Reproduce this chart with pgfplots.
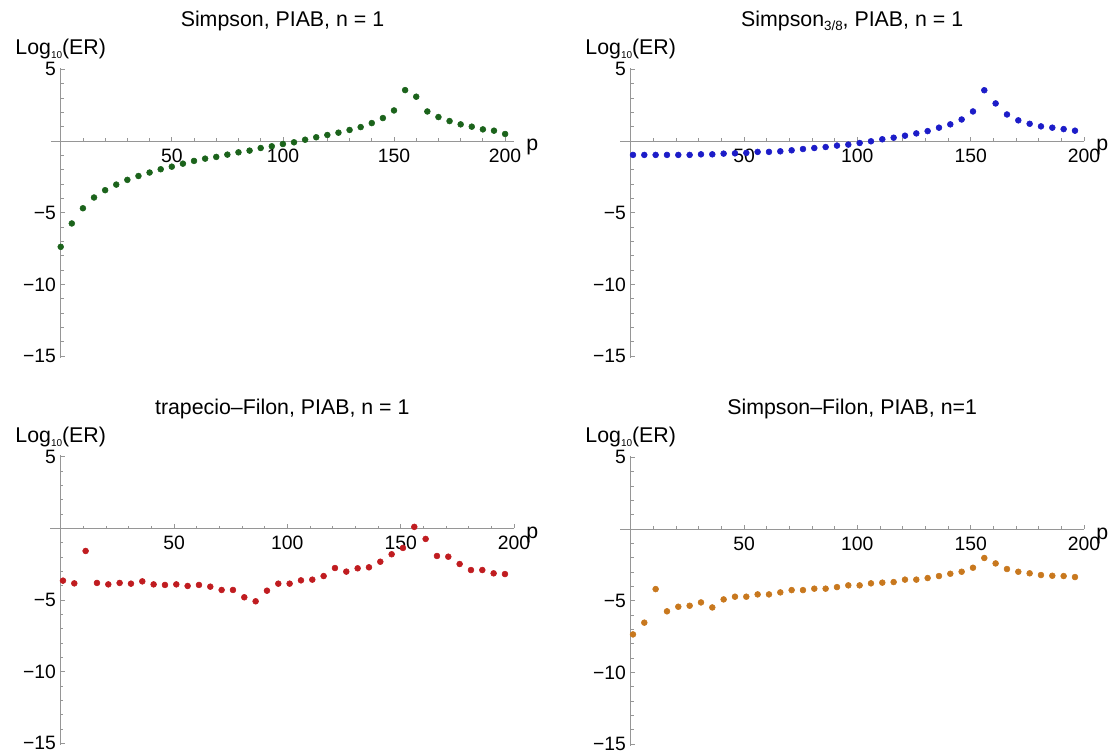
\documentclass[border=0pt]{standalone}
\usepackage{fontspec}
\setmainfont{Liberation Sans}
\usepackage{pgfplots}
\pgfplotsset{compat=1.18}

\definecolor{cgreen}{RGB}{27,99,27}
\definecolor{cblue}{RGB}{28,28,200}
\definecolor{cred}{RGB}{192,28,32}
\definecolor{corange}{RGB}{200,120,30}
\definecolor{axgray}{RGB}{150,150,150}

\newcommand{\titlefont}{\fontsize{16pt}{19pt}\selectfont}
\newcommand{\tickfont}{\fontsize{14.5pt}{17pt}\selectfont}
\newcommand{\loglabel}{Log\raisebox{-3pt}{\fontsize{7.5pt}{8pt}\selectfont 10}(ER)}

\pgfplotsset{
  erplot/.style={
    anchor=origin,
    axis lines=middle,
    axis line style={-, axgray, line width=0.6pt},
    y=10.755pt,
    ymin=-15.1, ymax=5.1,
    xtick={50,100,150,200}, xticklabels={50,100,150,200},
    minor xtick={10,20,30,40,60,70,80,90,110,120,130,140,160,170,180,190},
    ytick={-15,-10,-5,5}, yticklabels={−15,−10,−5,5},
    minor ytick={-14,-13,-12,-11,-9,-8,-7,-6,-4,-3,-2,-1,1,2,3,4},
    tick style={axgray, line width=0.6pt},
    major tick length=3.3pt, minor tick length=2.1pt,
    tick align=inside,
    ticklabel style={font=\tickfont, text=black},
    xticklabel style={yshift=-2.5pt},
    clip=false,
  },
  ermarks/.style={only marks, mark=*, mark size=2.2pt, #1, mark options={draw=none, fill=#1}},
}

\begin{document}
\begin{tikzpicture}
\useasboundingbox (0,0) rectangle (834.75pt,-567pt);

% Simpson
\begin{axis}[erplot, at={(45.525pt,-105.75pt)}, x=1.6665pt, xmin=-4.4, xmax=204]
\addplot[ermarks=cgreen] coordinates {
(0,-7.38) (5,-5.75) (10,-4.69) (15,-3.94) (20,-3.43) (25,-3.04) (30,-2.71)
(35,-2.44) (40,-2.20) (45,-1.97) (50,-1.79) (55,-1.58) (60,-1.39) (65,-1.23)
(70,-1.11) (75,-0.95) (80,-0.79) (85,-0.67) (90,-0.49) (95,-0.37) (100,-0.21)
(105,-0.09) (110,0.09) (115,0.26) (120,0.42) (125,0.58) (130,0.77) (135,0.97)
(140,1.25) (145,1.60) (150,2.13) (155,3.55) (160,3.09) (165,2.06) (170,1.67)
(175,1.39) (180,1.16) (185,1.00) (190,0.81) (195,0.72) (200,0.49)
};
\node[anchor=base, font=\titlefont] at (rel axis cs:0.5,1) [yshift=30.75pt] {Simpson, PIAB, n = 1};
\node[anchor=base, font=\titlefont] at (axis cs:0,5.1) [yshift=9.7pt] {\loglabel};
\node[anchor=base west, inner sep=0pt, font=\titlefont] at (axis cs:204,0) [xshift=9pt, yshift=-7.5pt] {p};
\end{axis}

% Simpson 3/8
\begin{axis}[erplot, at={(473.025pt,-105.75pt)}, x=1.700pt, xmin=-4.6, xmax=200]
\addplot[ermarks=cblue] coordinates {
(1,-0.97) (6,-0.97) (11,-0.97) (16,-0.97) (21,-0.97) (26,-0.97) (31,-0.93)
(36,-0.93) (41,-0.88) (46,-0.86) (51,-0.83) (56,-0.76) (61,-0.76) (66,-0.72)
(71,-0.65) (76,-0.56) (81,-0.49) (86,-0.42) (91,-0.32) (96,-0.25) (101,-0.14)
(106,-0.02) (111,0.12) (116,0.23) (121,0.37) (126,0.53) (131,0.69) (136,0.93)
(141,1.16) (146,1.50) (151,2.06) (156,3.54) (161,2.62) (166,1.85) (171,1.44)
(176,1.20) (181,1.02) (186,0.93) (191,0.83) (196,0.72)
};
\node[anchor=base, font=\titlefont] at (rel axis cs:0.5,1) [yshift=30.75pt] {Simpson\raisebox{-3pt}{\fontsize{10pt}{10pt}\selectfont 3/8}, PIAB, n = 1};
\node[anchor=base, font=\titlefont] at (axis cs:0,5.1) [yshift=9.7pt] {\loglabel};
\node[anchor=base west, inner sep=0pt, font=\titlefont] at (axis cs:200,0) [xshift=9pt, yshift=-7.5pt] {p};
\end{axis}

% trapecio-Filon
\begin{axis}[erplot, at={(45.525pt,-396.225pt)}, x=1.700pt, xmin=-4.5, xmax=200]
\addplot[ermarks=cred] coordinates {
(1,-3.65) (6,-3.84) (11,-1.58) (16,-3.81) (21,-3.91) (26,-3.81) (31,-3.86)
(36,-3.70) (41,-3.91) (46,-3.95) (51,-3.91) (56,-4.02) (61,-3.95) (66,-4.07)
(71,-4.30) (76,-4.30) (81,-4.81) (86,-5.09) (91,-4.35) (96,-3.86) (101,-3.86)
(106,-3.63) (111,-3.58) (116,-3.33) (121,-2.77) (126,-3.02) (131,-2.79) (136,-2.72)
(141,-2.33) (146,-1.81) (151,-1.37) (156,0.10) (161,-0.74) (166,-1.93) (171,-1.98)
(176,-2.49) (181,-2.91) (186,-2.91) (191,-3.14) (196,-3.19)
};
\node[anchor=base, font=\titlefont] at (rel axis cs:0.5,1) [yshift=30.75pt] {trapecio–Filon, PIAB, n = 1};
\node[anchor=base, font=\titlefont] at (axis cs:0,5.1) [yshift=9.7pt] {\loglabel};
\node[anchor=base west, inner sep=0pt, font=\titlefont] at (axis cs:200,0) [xshift=9pt, yshift=-7.5pt] {p};
\end{axis}

% Simpson-Filon
\begin{axis}[erplot, at={(473.025pt,-396.75pt)}, x=1.700pt, xmin=-4.6, xmax=200]
\addplot[ermarks=corange] coordinates {
(1,-7.35) (6,-6.53) (11,-4.19) (16,-5.74) (21,-5.42) (26,-5.35) (31,-5.12)
(36,-5.47) (41,-4.91) (46,-4.72) (51,-4.72) (56,-4.56) (61,-4.56) (66,-4.42)
(71,-4.26) (76,-4.26) (81,-4.16) (86,-4.16) (91,-4.05) (96,-3.93) (101,-3.93)
(106,-3.79) (111,-3.74) (116,-3.70) (121,-3.53) (126,-3.53) (131,-3.42) (136,-3.28)
(141,-3.12) (146,-2.98) (151,-2.70) (156,-2.02) (161,-2.40) (166,-2.79) (171,-2.98)
(176,-3.09) (181,-3.21) (186,-3.26) (191,-3.28) (196,-3.35)
};
\node[anchor=base, font=\titlefont] at (rel axis cs:0.5,1) [yshift=30.75pt] {Simpson–Filon, PIAB, n=1};
\node[anchor=base, font=\titlefont] at (axis cs:0,5.1) [yshift=9.7pt] {\loglabel};
\node[anchor=base west, inner sep=0pt, font=\titlefont] at (axis cs:200,0) [xshift=9pt, yshift=-7.5pt] {p};
\end{axis}
\end{tikzpicture}
\end{document}
